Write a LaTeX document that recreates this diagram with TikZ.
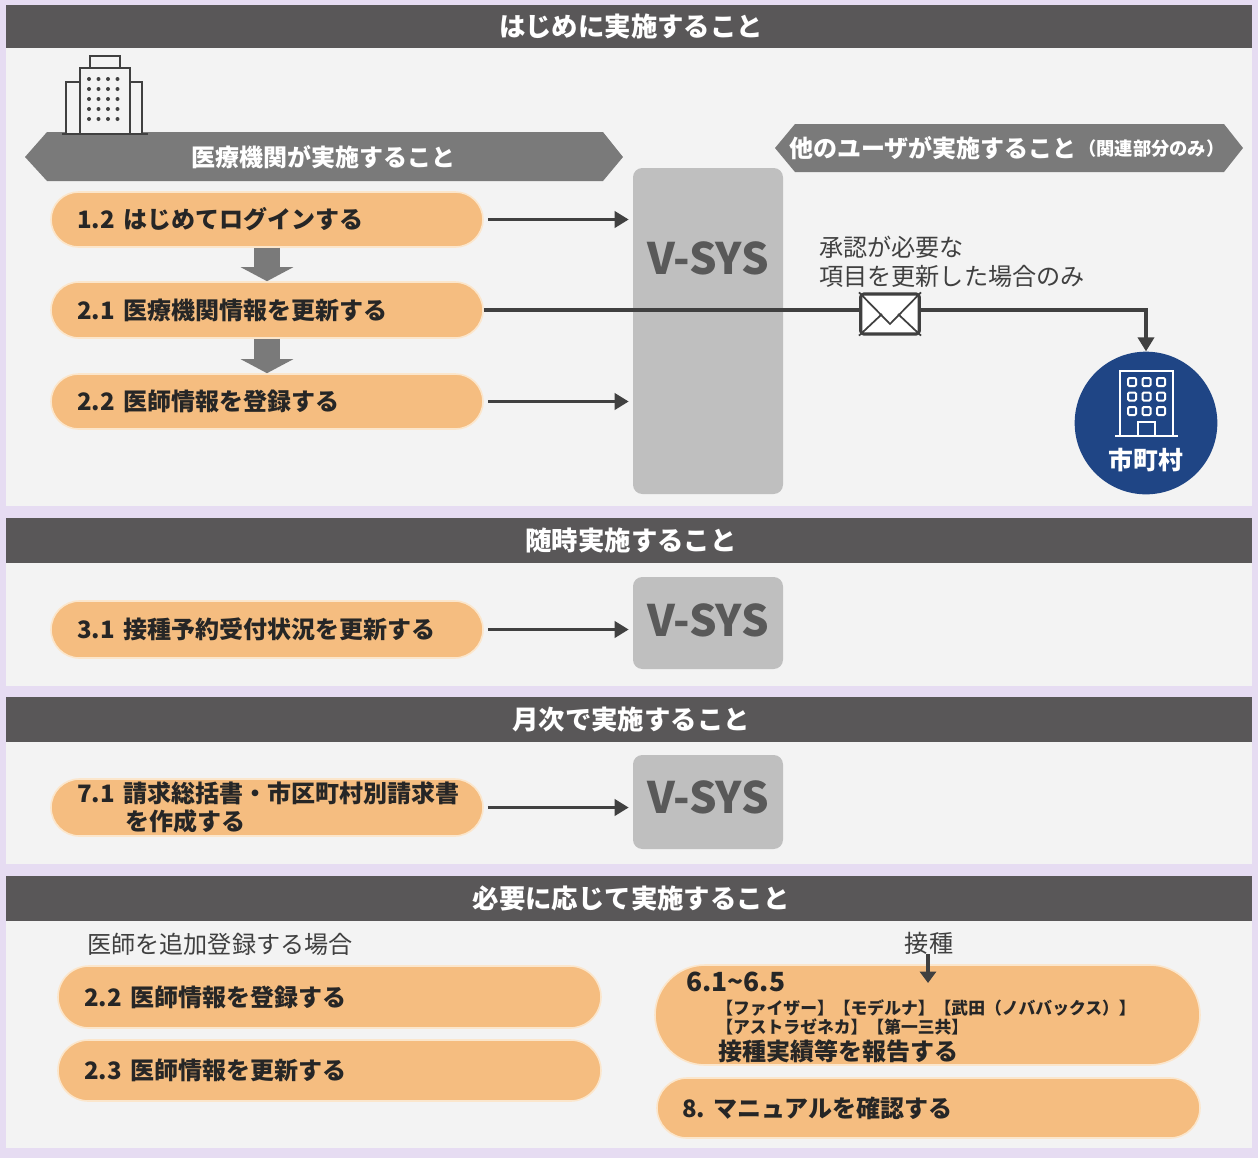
\documentclass[tikz,border=0pt]{standalone}
\usepackage{fontspec}
\usetikzlibrary{arrows.meta,calc,shapes.misc}
\setmainfont{Noto Sans CJK JP}
\definecolor{lilac}{HTML}{E6DCF2}
\definecolor{panel}{HTML}{F3F3F3}
\definecolor{hdr}{HTML}{595758}
\definecolor{tag}{HTML}{7A7A7A}
\definecolor{orangefill}{HTML}{F5BD80}
\definecolor{orangeedge}{HTML}{FBE6CC}
\definecolor{vsys}{HTML}{BFBFBF}
\definecolor{vtext}{HTML}{595959}
\definecolor{ink}{HTML}{404040}
\definecolor{navy}{HTML}{1F4585}
\newcommand{\fs}[1]{\fontsize{#1}{#1}\selectfont}
\newcommand{\gap}{\kern6.75pt\relax}
\tikzset{
  px/.style={x=0.75pt,y=-0.75pt},
  panelbox/.style={fill=panel,draw=none},
  hdrtext/.style={text=white,font=\fs{19.8}\bfseries,inner sep=0pt},
  tagtext/.style={text=white,font=\fs{18}\bfseries,inner sep=0pt},
  pillshape/.style={fill=orangefill,draw=orangeedge,line width=1.2pt,align=left,inner xsep=0pt,inner ysep=0pt,font=\fontsize{18}{21}\selectfont\bfseries,text=black!85},
  vsysbox/.style={fill=vsys,draw=none,rounded corners=7pt,inner sep=0pt},
  vsystext/.style={inner sep=0pt,text=vtext,font=\fs{32.5}\bfseries},
  arr/.style={draw=ink,line width=2.7pt,-{Triangle[length=10.5pt,width=12pt]}},
  fat/.style={draw=tag,line width=19.5pt,-{Triangle[length=10.5pt,width=39pt]}},
  note/.style={text=ink,font=\fontsize{18.1}{21.75}\selectfont,align=left,inner sep=0pt},
  bldg/.style={draw=ink,line width=2pt,fill=panel},
  pilltext/.style={anchor=west,inner sep=0pt,text=black!85},
}
% \pillnode{name}{x1}{y1}{x2}{y2}{left pad}{text}
\newcommand{\pillnode}[7]{%
  \pgfmathsetmacro{\pw}{(#4-#2)*0.75}%
  \pgfmathsetmacro{\ph}{(#5-#3)*0.75}%
  \pgfmathsetmacro{\ptw}{(#4-#2-10)*0.75}%
  \pgfmathsetmacro{\ppad}{(#6-5)*0.75}%
  \pgfmathsetmacro{\prr}{(#5-#3)*0.75*0.5}%
  \node[pillshape,rounded corners=\prr pt,minimum width=\pw pt,minimum height=\ph pt,
        text width=\ptw pt,inner xsep=0pt,anchor=center] (#1) at ({(#2+#4)/2},{(#3+#5)/2})
        {\hspace*{\ppad pt}\ignorespaces #7};}
\begin{document}
\begin{tikzpicture}[px]
\useasboundingbox (0,0) rectangle (1258,1158);
\fill[lilac] (0,0) rectangle (1258,1158);
% panels and header bars
\fill[panelbox] (6,48) rectangle (1252,506);
\fill[panelbox] (6,563) rectangle (1252,686);
\fill[panelbox] (6,742) rectangle (1252,864);
\fill[panelbox] (6,921) rectangle (1252,1148);
\fill[hdr] (6,5) rectangle (1252,48);
\fill[hdr] (6,518) rectangle (1252,563);
\fill[hdr] (6,697) rectangle (1252,742);
\fill[hdr] (6,876) rectangle (1252,921);
\node[hdrtext] (h1) at (631,26) {はじめに実施すること};
\node[hdrtext] (h2) at (631,540) {随時実施すること};
\node[hdrtext] (h3) at (631,719) {月次で実施すること};
\node[hdrtext] (h4) at (631,898) {必要に応じて実施すること};
% hexagon tags
\fill[tag] (25,157) -- (47,132) -- (603,132) -- (623,157) -- (603,181) -- (47,181) -- cycle;
\node[tagtext] (tagL) at (323.5,157) {医療機関が実施すること};
\fill[tag] (775,148) -- (795,124) -- (1224,124) -- (1243,148) -- (1224,172) -- (795,172) -- cycle;
\node[tagtext,anchor=west] (tagR) at (789,148) {他のユーザが実施すること};
\node[tagtext,anchor=west,font=\fs{13.7}\bfseries] (tagRs) at (1078,149) {（関連部分のみ）};
% left building
\draw[bldg] (90,68) rectangle (120,56);
\draw[bldg] (66,134) rectangle (80,82);
\draw[bldg] (130,134) rectangle (142,82);
\draw[bldg] (80,134) rectangle (130,68);
\draw[ink,line width=2pt] (62,134) -- (148,134);
\foreach \r in {0,...,4}{\foreach \c in {0,...,3}{
  \fill[ink] ({89+\c*9.5},{79+\r*10}) circle (2);}}
% V-SYS blocks
\node[vsysbox,minimum width=112.5pt,minimum height=244.5pt] (vA) at (708,331) {};
\node[vsystext] (vAt) at (708,258) {V-SYS};
\node[vsysbox,minimum width=112.5pt,minimum height=69pt] (vB) at (708,623) {};
\node[vsystext] (vBt) at (708,620) {V-SYS};
\node[vsysbox,minimum width=112.5pt,minimum height=70.5pt] (vC) at (708,802) {};
\node[vsystext] (vCt) at (708,797) {V-SYS};
% pills
\pillnode{p12}{51}{192}{483}{247}{26}{1.2\gap はじめてログインする}
\pillnode{p21}{51}{282}{483}{338}{26}{2.1\gap 医療機関情報を更新する}
\pillnode{p22}{51}{374}{483}{429}{26}{2.2\gap 医師情報を登録する}
\pillnode{p31}{51}{601}{483}{658}{26}{3.1\gap 接種予約受付状況を更新する}
\pillnode{p71}{51}{779}{483}{836}{26}{7.1\gap 請求総括書・市区町村別請求書\\\hspace*{51.75pt}を作成する}
\pillnode{q22}{58}{966}{601}{1028}{26}{2.2\gap 医師情報を登録する}
\pillnode{q23}{58}{1040}{601}{1101}{26}{2.3\gap 医師情報を更新する}
\pillnode{q8}{657}{1078}{1200}{1138}{25}{8.\kern0.2pt\ マニュアルを確認する}
\node[pillshape,rounded corners=37.5pt,minimum width=408.75pt,minimum height=75pt] (q6) at (927.5,1015) {};
\node[pilltext,font=\fs{19.8}\bfseries] (q6a) at (686,982) {6.1\textasciitilde 6.5};
\node[pilltext,font=\fs{12.6}\bfseries] (q6b) at (716,1008) {【ファイザー】【モデルナ】【武田（ノババックス）】};
\node[pilltext,font=\fs{12.6}\bfseries] (q6c) at (716,1027) {【アストラゼネカ】【第一三共】};
\node[pilltext,font=\fs{18}\bfseries] (q6d) at (718,1051) {接種実績等を報告する};
% connectors
\draw[arr] ([xshift=3pt]p12.east) -- ([xshift=-3pt]p12.east -| vA.west);
\draw[arr] ([xshift=3pt]p22.east) -- ([xshift=-3pt]p22.east -| vA.west);
\draw[arr] ([xshift=3pt]p31.east) -- ([xshift=-3pt]p31.east -| vB.west);
\draw[arr] ([xshift=3pt]p71.east) -- ([xshift=-3pt]p71.east -| vC.west);
\coordinate (fa) at (267,0);
\draw[fat] (p12.south -| fa) -- (p21.north -| fa);
\draw[fat] (p21.south -| fa) -- (p22.north -| fa);
% municipality
\node[circle,fill=navy,draw=none,minimum size=107pt,inner sep=0pt] (city) at (1146,423) {};
\draw[arr,rounded corners=0pt] (p21.east) -- (p21.east -| city.north) -- (city.north);
% envelope
\node[draw=ink,fill=white,line width=2.4pt,rounded corners=2.5pt,minimum width=44pt,minimum height=30pt,inner sep=0pt] (env) at (890,314) {};
\draw[ink,line width=1.3pt] (env.north west) -- ([yshift=-7.5pt]env.center) -- (env.north east);
\draw[ink,line width=1.3pt] (env.south west) -- ([xshift=-6pt,yshift=0pt]env.center);
\draw[ink,line width=1.3pt] (env.south east) -- ([xshift=6pt,yshift=0pt]env.center);
\node[note,anchor=north west] (noteA) at (819,236) {承認が必要な\\項目を更新した場合のみ};
% city icon
\draw[white,line width=1.6pt] (1120,436) -- (1120,371) -- (1173,371) -- (1173,436);
\draw[white,line width=1.6pt] (1115,436) -- (1178,436);
\draw[white,line width=1.6pt] (1138,436) -- (1138,422) -- (1155,422) -- (1155,436);
\foreach \r in {0,1,2}{\foreach \c in {0,1,2}{
  \draw[white,line width=1.5pt,rounded corners=1pt] ({1128+\c*14.5},{378+\r*14.5}) rectangle +(8,8);}}
\node[text=white,font=\fs{18.6}\bfseries,inner sep=0pt] (cityt) at (1146,460) {市町村};
% lower notes
\node[note,anchor=west] (noteB) at (87,944) {医師を追加登録する場合};
\node[note] (noteC) at (929,943) {接種};
\coordinate (c6) at (928,983);
\draw[draw=ink,line width=3.2pt,-{Triangle[length=8.5pt,width=12pt]}] (noteC.south -| c6) -- (c6);
\end{tikzpicture}
\end{document}
